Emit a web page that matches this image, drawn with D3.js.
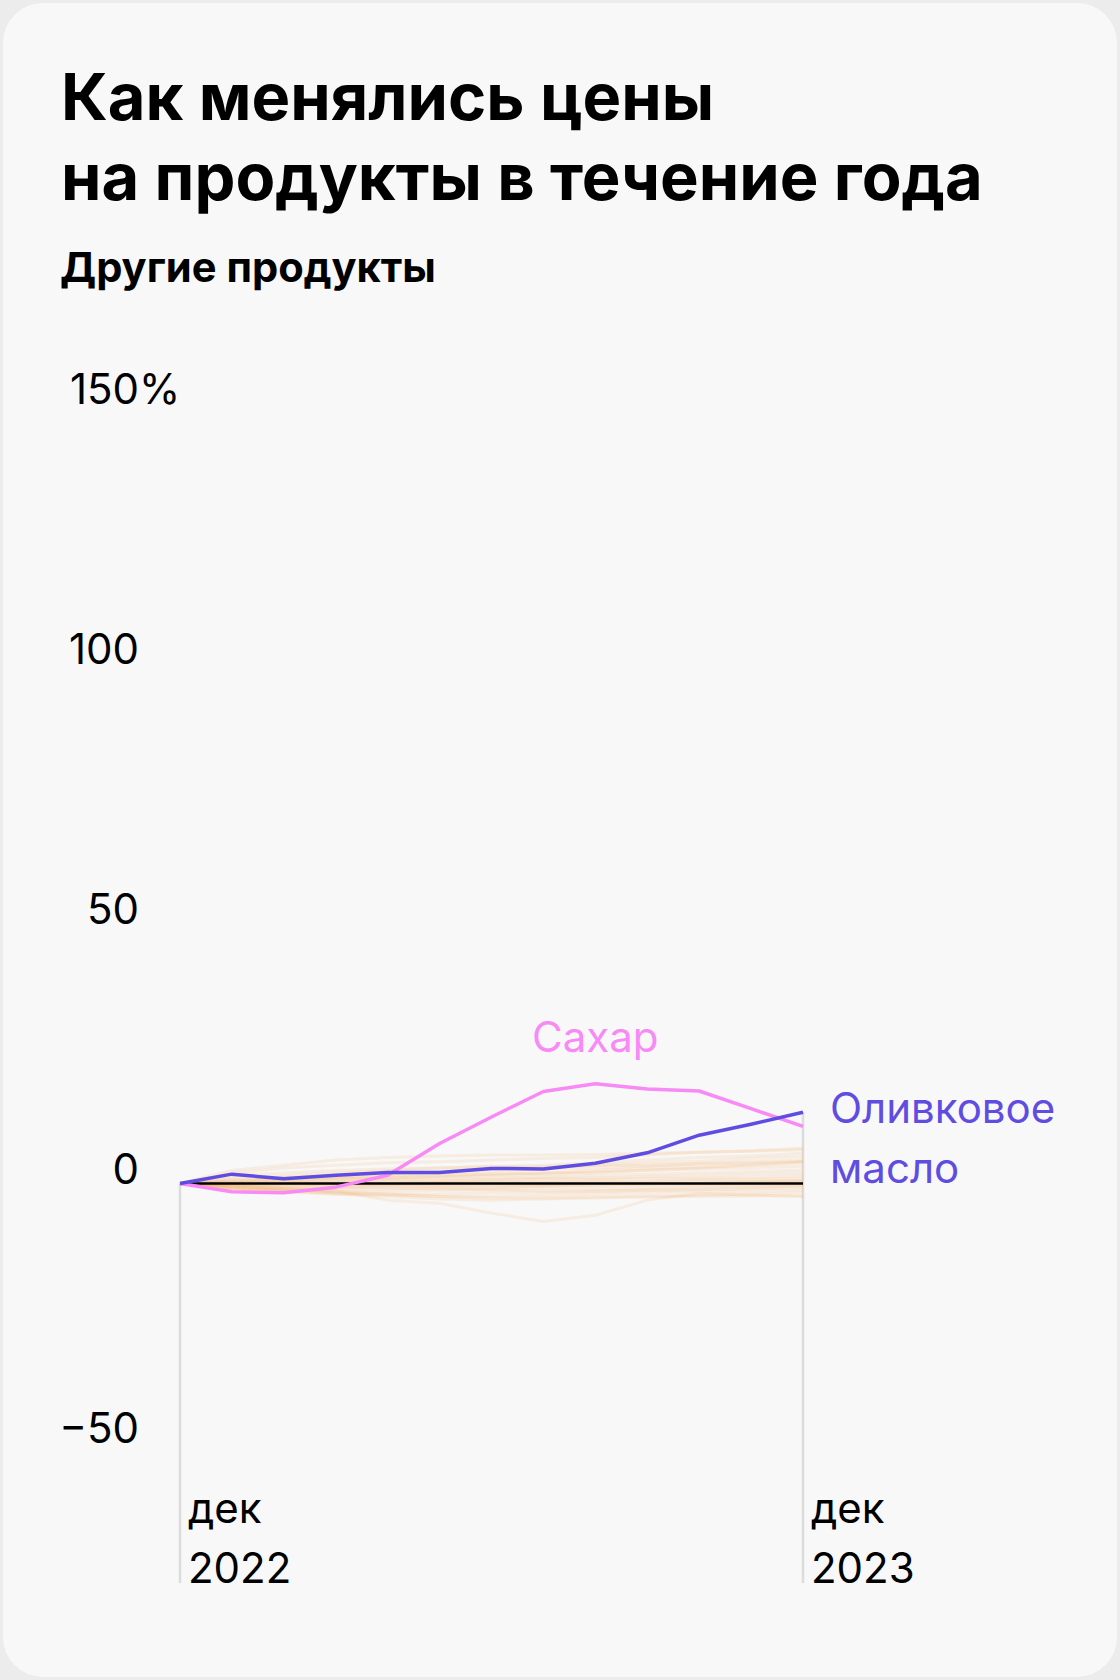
<!DOCTYPE html>
<html>
<head>
<meta charset="utf-8">
<script src="https://cdn.jsdelivr.net/npm/d3@7"></script>
<style>
  html, body { margin: 0; padding: 0; background: #ececec; }
  svg { display: block; }
  text { font-family: Inter, "Noto Sans", sans-serif; }
</style>
</head>
<body>
<svg id="chart" width="1120" height="1680"></svg>
<script>
// ---- data ----
const title = ["Как менялись цены", "на продукты в течение года"];
const subtitle = "Другие продукты";
const months = ["дек 2022", "янв", "фев", "мар", "апр", "май", "июн", "июл", "авг", "сен", "окт", "ноя", "дек 2023"];
const xTickLabels = [["дек", "2022"], ["дек", "2023"]];
const yTicks = [-50, 0, 50, 100, 150];

const sugarName = "Сахар";
const sugar = [0, -1.6, -1.8, -0.7, 1.6, 7.7, 12.8, 17.7, 19.2, 18.2, 17.8, 14.4, 11.0];
const oliveName = ["Оливковое", "масло"];
const oliveOil = [0, 1.8, 0.9, 1.6, 2.1, 2.1, 2.9, 2.8, 3.9, 5.9, 9.3, 11.4, 13.7];

const other01 = [0, 2.5, 3.5, 4.5, 5, 5.3, 5.5, 5.5, 5.6, 5.8, 6, 6.3, 6.8];
const other02 = [0, 2, 3, 3.5, 4, 4.2, 4.5, 4.8, 5, 5.5, 6, 6.2, 6.5];
const other03 = [0, 1, 1.5, 2, 2.5, 3, 3.3, 3.5, 4, 4.5, 5, 5.3, 5.8];
const other04 = [0, 0.5, 1, 1.5, 2, 2.3, 2.8, 3, 3.5, 4, 4.3, 4.8, 5.2];
const other05 = [0, 0.3, 0.8, 1, 1.5, 2, 2.3, 2.8, 3, 3.3, 3.8, 4.2, 4.5];
const other06 = [0, 0.5, 0.5, 1, 1, 1.5, 1.8, 2, 2.5, 3, 3.2, 3.5, 4];
const other07 = [0, 0.2, 0.5, 0.8, 1, 1.2, 1.5, 1.8, 2, 2.5, 2.8, 3, 3.3];
const other08 = [0, 0, 0.3, 0.5, 0.8, 1, 1, 1.3, 1.5, 1.8, 2, 2.3, 2.6];
const other09 = [0, 0.2, 0, 0.3, 0.5, 0.5, 0.8, 1, 1, 1.3, 1.5, 1.8, 2];
const other10 = [0, -0.2, 0, 0.2, 0.3, 0.5, 0.5, 0.8, 0.8, 1, 1, 1.2, 1.5];
const other11 = [0, -0.3, -0.3, 0, 0, 0.2, 0.3, 0.3, 0.5, 0.5, 0.8, 0.8, 1];
const other12 = [0, -0.5, -0.5, -0.3, -0.3, 0, 0, 0.2, 0.2, 0.3, 0.5, 0.5, 0.6];
const other13 = [0, -0.5, -0.8, -0.8, -0.5, -0.5, -0.3, -0.3, 0, 0, 0, 0.2, 0.3];
const other14 = [0, -0.8, -1, -1, -1, -0.8, -0.8, -0.5, -0.5, -0.3, -0.3, -0.2, 0];
const other15 = [0, -1, -1.2, -1.5, -1.5, -1.3, -1.2, -1, -1, -0.8, -0.6, -0.5, -0.4];
const other16 = [0, -0.8, -1.3, -1.8, -2, -2, -1.8, -1.8, -1.5, -1.3, -1.2, -1, -0.8];
const other17 = [0, -1, -1.5, -2, -2.2, -2.5, -2.5, -2.3, -2, -1.8, -1.6, -1.5, -1.3];
const other18 = [0, -0.5, -1, -1.5, -2, -2.5, -2.8, -2.8, -2.6, -2.4, -2.2, -2, -1.8];
const other19 = [0, -1, -1.5, -2, -2.5, -3, -3.2, -3, -2.8, -2.6, -2.5, -2.4, -2.4];
const other20 = [0, -0.5, -1, -1.5, -3.2, -3.8, -5.7, -7.3, -6.1, -3.2, -1.9, -2.2, -2.5];
const other21 = [0, 1.5, 2, 2.5, 2.8, 3, 3.2, 3.2, 3.5, 3.5, 3.8, 4, 4.2];
const other22 = [0, 0.8, 1.2, 1.3, 1.5, 1.6, 1.8, 2, 2.2, 2.6, 3, 3.6, 4.2];
const other23 = [0, -0.3, -0.6, -0.6, -0.8, -1, -1.2, -1.5, -1.5, -1.2, -1, -0.8, -0.5];
const other24 = [0, 0, 0, -0.2, -0.2, -0.4, -0.6, -0.5, -0.3, -0.1, 0.1, 0.3, 0.5];
const others = [other01, other02, other03, other04, other05, other06, other07, other08,
  other09, other10, other11, other12, other13, other14, other15, other16, other17,
  other18, other19, other20, other21, other22, other23, other24];

// ---- drawing ----
const svg = d3.select("#chart");
const COL_SUGAR = "#f78af5";
const COL_OLIVE = "#5f4de2";
const COL_OTHER = "#f3ad6a";

svg.append("rect").attr("x", 3).attr("y", 3).attr("width", 1114).attr("height", 1674)
  .attr("rx", 40).attr("fill", "#f8f8f8");

const tg = svg.append("g");
function fitText(sel, target) {
  const w = sel.node().getComputedTextLength();
  const fs = parseFloat(sel.attr("font-size"));
  sel.attr("font-size", (fs * target / w).toFixed(2));
}
const t1 = tg.append("text").attr("x", 61).attr("y", 120).attr("font-size", 66)
  .attr("font-weight", 700).attr("fill", "#000").text(title[0]);
const t2 = tg.append("text").attr("x", 61).attr("y", 200).attr("font-size", 66)
  .attr("font-weight", 700).attr("fill", "#000").text(title[1]);
fitText(t2, 922);
t1.attr("font-size", t2.attr("font-size"));
const st = tg.append("text").attr("x", 60).attr("y", 282).attr("font-size", 36)
  .attr("font-weight", 700).attr("fill", "#000").text(subtitle);
fitText(st, 376);

const x = d3.scaleLinear().domain([0, months.length - 1]).range([180, 803]);
const y = d3.scaleLinear().domain([0, 150]).range([1183.5, 404]);

const AX_FS = 42;
// y labels: numbers right-aligned at a common edge, "%" hangs past it on the top tick
const yl = svg.append("g");
const Y_EDGE = 139;
yTicks.forEach(v => {
  const num = v < 0 ? "\u2212" + Math.abs(v) : String(v);
  const t = yl.append("text").attr("y", y(v)).attr("font-size", AX_FS).attr("fill", "#000").text(num);
  const w = t.node().getComputedTextLength();
  if (v === yTicks[yTicks.length - 1]) t.text(num + "%");
  t.attr("x", Y_EDGE - w);
});

// vertical guide lines
const allSeries = others.concat([sugar, oliveOil]);
[0, months.length - 1].forEach(i => {
  const top = d3.max(allSeries, s => s[i]);
  svg.append("line").attr("x1", x(i)).attr("x2", x(i))
    .attr("y1", y(top)).attr("y2", 1583)
    .attr("stroke", "#dcdcdc").attr("stroke-width", 2.5);
});

// x labels
xTickLabels.forEach((lab, k) => {
  const i = k === 0 ? 0 : months.length - 1;
  const t = svg.append("text").attr("font-size", AX_FS).attr("fill", "#000");
  t.append("tspan").attr("x", x(i) + 8).attr("y", 1523).text(lab[0]);
  t.append("tspan").attr("x", x(i) + 8).attr("y", 1583).text(lab[1]);
});

const line = d3.line().x((d, i) => x(i)).y(d => y(d));

svg.append("g").selectAll("path").data(others).join("path")
  .attr("d", line).attr("fill", "none").attr("stroke", COL_OTHER)
  .attr("stroke-opacity", 0.16).attr("stroke-width", 3).attr("stroke-linejoin", "round");

svg.append("line").attr("x1", x(0)).attr("x2", x(months.length - 1))
  .attr("y1", y(0)).attr("y2", y(0)).attr("stroke", "#000").attr("stroke-width", 2.5);

svg.append("path").datum(sugar).attr("d", line).attr("fill", "none")
  .attr("stroke", COL_SUGAR).attr("stroke-width", 3.5).attr("stroke-linejoin", "round");
svg.append("path").datum(oliveOil).attr("d", line).attr("fill", "none")
  .attr("stroke", COL_OLIVE).attr("stroke-width", 3.5).attr("stroke-linejoin", "round");

// series labels
const sMaxI = d3.maxIndex(sugar);
svg.append("text").attr("x", x(sMaxI)).attr("y", y(sugar[sMaxI]) - 32)
  .attr("text-anchor", "middle").attr("font-size", AX_FS).attr("fill", COL_SUGAR).text(sugarName);
const last = oliveOil.length - 1;
const ol = svg.append("text").attr("font-size", AX_FS).attr("fill", COL_OLIVE);
ol.append("tspan").attr("x", x(last) + 27).attr("y", y(oliveOil[last]) + 11).text(oliveName[0]);
ol.append("tspan").attr("x", x(last) + 27).attr("y", y(oliveOil[last]) + 71).text(oliveName[1]);
</script>
</body>
</html>
